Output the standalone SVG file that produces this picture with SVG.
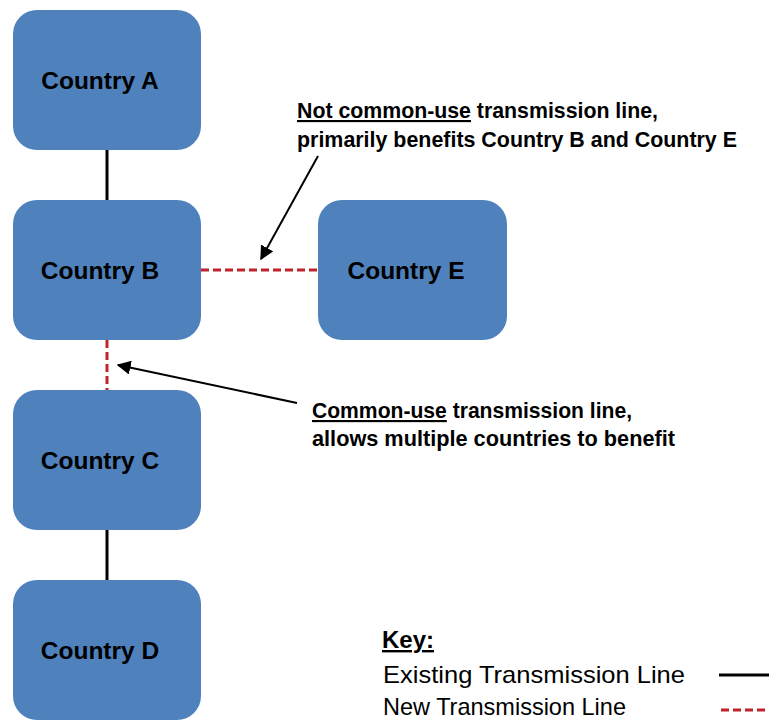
<svg xmlns="http://www.w3.org/2000/svg" width="769" height="723" viewBox="0 0 769 723">
<defs>
<style>
.box{fill:#4F81BD;}
.lbl{font-family:"Liberation Sans",Arial,sans-serif;font-weight:bold;font-size:24.5px;fill:#000;text-anchor:middle;}
.ann{font-family:"Liberation Sans",Arial,sans-serif;font-weight:bold;font-size:21.5px;fill:#000;}
.key{font-family:"Liberation Sans",Arial,sans-serif;font-size:24px;fill:#000;}
.exist{stroke:#000;stroke-width:3;fill:none;}
.new{stroke:#C0232C;stroke-width:3;stroke-dasharray:8 4;fill:none;}
.arrow{stroke:#000;stroke-width:2;fill:none;marker-end:url(#ah);}
</style>
<marker id="ah" viewBox="0 0 10 10" refX="9" refY="5" markerWidth="7" markerHeight="7" markerUnits="strokeWidth" orient="auto">
<path d="M0,0 L10,5 L0,10 z" fill="#000"/>
</marker>
</defs>
<rect width="769" height="723" fill="#fff"/>
<g id="connectors">
<line class="exist" x1="107" y1="150" x2="107" y2="200"/>
<line class="new" x1="201" y1="270" x2="318" y2="270"/>
<line class="new" x1="107" y1="340" x2="107" y2="390"/>
<line class="exist" x1="107" y1="530" x2="107" y2="580"/>
<line class="arrow" x1="318" y1="156" x2="261" y2="259"/>
<line class="arrow" x1="297" y1="403" x2="118" y2="365"/>
</g>
<g id="country-a">
<rect class="box" x="13" y="10" width="188" height="140" rx="24"/>
<text class="lbl" x="100" y="89">Country A</text>
</g>
<g id="country-b">
<rect class="box" x="13" y="200" width="188" height="140" rx="24"/>
<text class="lbl" x="100" y="279">Country B</text>
</g>
<g id="country-c">
<rect class="box" x="13" y="390" width="188" height="140" rx="24"/>
<text class="lbl" x="100" y="469">Country C</text>
</g>
<g id="country-d">
<rect class="box" x="13" y="580" width="188" height="140" rx="24"/>
<text class="lbl" x="100" y="659">Country D</text>
</g>
<g id="country-e">
<rect class="box" x="318" y="200" width="189" height="140" rx="24"/>
<text class="lbl" x="406" y="279">Country E</text>
</g>
<g id="note-not-common">
<text class="ann" x="297" y="118" textLength="361" lengthAdjust="spacingAndGlyphs"><tspan text-decoration="underline">Not common-use</tspan> transmission line,</text>
<text class="ann" x="297" y="147" textLength="440" lengthAdjust="spacingAndGlyphs">primarily benefits Country B and Country E</text>
</g>
<g id="note-common">
<text class="ann" x="312" y="418" textLength="320" lengthAdjust="spacingAndGlyphs"><tspan text-decoration="underline">Common-use</tspan> transmission line,</text>
<text class="ann" x="312" y="446" textLength="363" lengthAdjust="spacingAndGlyphs">allows multiple countries to benefit</text>
</g>
<g id="key">
<text class="key" x="382" y="648" font-weight="bold" text-decoration="underline">Key:</text>
<text class="key" x="383" y="683" textLength="302" lengthAdjust="spacingAndGlyphs">Existing Transmission Line</text>
<text class="key" x="383" y="715" textLength="243" lengthAdjust="spacingAndGlyphs">New Transmission Line</text>
<line class="exist" x1="719" y1="675" x2="769" y2="675"/>
<line class="new" x1="721" y1="710" x2="769" y2="710"/>
</g>
</svg>
